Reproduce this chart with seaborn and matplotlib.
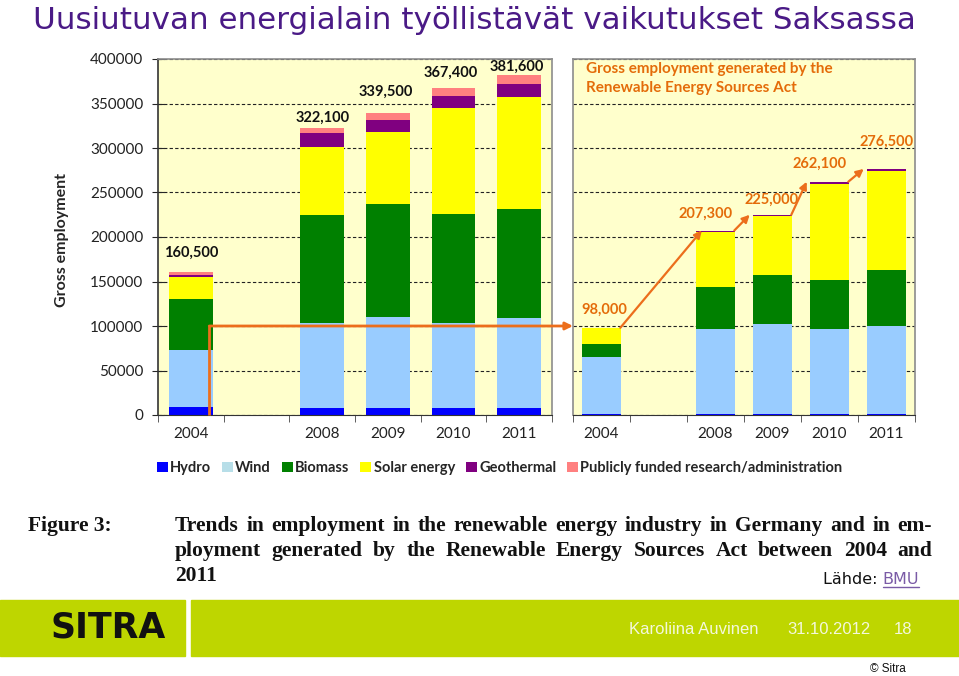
import numpy as np
import pandas as pd
import matplotlib
matplotlib.use("Agg")
import matplotlib.pyplot as plt
import seaborn as sns
from matplotlib.patches import Patch, Rectangle, ConnectionPatch
from matplotlib.lines import Line2D

# --- data ---
years = ['2004', '2008', '2009', '2010', '2011']
slots = ['2004', ' ', '2008', '2009', '2010', '2011']
sources = ['Hydro', 'Wind', 'Biomass', 'Solar energy', 'Geothermal',
           'Publicly funded research/administration']

# whole renewable energy industry
hydro_all = [9500, 7600, 7600, 7600, 7600]
wind_all = [63900, 95500, 102800, 95500, 101100]
biomass_all = [56800, 121800, 127000, 122500, 122800]
solar_all = [25100, 76600, 80500, 119500, 125600]
geo_all = [1800, 15000, 14000, 13500, 14300]
research_all = [3400, 5600, 7600, 8800, 10200]
totals_all = [160500, 322100, 339500, 367400, 381600]

# generated by the Renewable Energy Sources Act
hydro_eeg = [1500, 1500, 1500, 1500, 1500]
wind_eeg = [64000, 94800, 100800, 94800, 98900]
biomass_eeg = [14000, 48000, 55100, 55400, 62600]
solar_eeg = [18000, 61500, 66400, 108400, 111000]
geo_eeg = [500, 1500, 1200, 2000, 2500]
research_eeg = [0, 0, 0, 0, 0]
totals_eeg = [98000, 207300, 225000, 262100, 276500]

colors = ['#0000FF', '#99CCFF', '#008000', '#FFFF00', '#800080', '#FF8080']
legend_colors = ['#0000FF', '#B7DEE8', '#008000', '#FFFF00', '#800080', '#FF8080']
orange = '#EC6E1C'
W, H = 959, 676

sns.set_style('white')
plt.rcParams['font.family'] = ['Lato', 'DejaVu Sans']

fig = plt.figure(figsize=(W / 100, H / 100), dpi=100)


def px_box(x0, y0, x1, y1):
    return [x0 / W, 1 - y1 / H, (x1 - x0) / W, (y1 - y0) / H]


ax1 = fig.add_axes(px_box(158, 59, 552, 415))
ax2 = fig.add_axes(px_box(573, 59, 915, 415), sharey=ax1)


def draw_stack(ax, layers):
    frame = pd.DataFrame(dict(zip(sources, layers)), index=years)
    cum = frame.cumsum(axis=1)
    # draw from the top layer down so each lower layer overpaints the rest
    for src, col in zip(reversed(sources), reversed(colors)):
        sns.barplot(x=list(cum.index), y=cum[src].values, order=slots,
                    color=col, saturation=1, width=0.67, errorbar=None,
                    linewidth=0, ax=ax, zorder=2)
    ax.set_xlabel('')
    ax.set_ylabel('')
    ax.set_facecolor('#FFFFCC')
    ax.set_xlim(-0.5, 5.5)
    ax.set_xticks(np.arange(-0.5, 6, 1), minor=True)
    ax.tick_params(axis='x', which='major', length=0, pad=9,
                   labelsize=11, labelcolor='#222222')
    ax.tick_params(axis='x', which='minor', length=5, direction='out',
                   color='#444444', bottom=True)
    ax.yaxis.grid(True, linestyle=(0, (3, 2)), color='#222222', linewidth=0.8)
    ax.set_axisbelow(True)
    for side in ['top', 'right', 'left']:
        ax.spines[side].set_color('#8C8C8C')
        ax.spines[side].set_linewidth(1.2)
    ax.spines['bottom'].set_color('#333333')


draw_stack(ax1, [hydro_all, wind_all, biomass_all, solar_all, geo_all, research_all])
draw_stack(ax2, [hydro_eeg, wind_eeg, biomass_eeg, solar_eeg, geo_eeg, research_eeg])

ax1.set_ylim(0, 400000)
ax1.set_yticks(np.arange(0, 400001, 50000))
ax1.yaxis.set_major_formatter(matplotlib.ticker.FuncFormatter(lambda v, p: f'{int(v)}'))
ax1.tick_params(axis='y', direction='inout', length=9, pad=6, labelsize=11,
                labelcolor='#222222', left=True)
ax1.spines['left'].set_color('#333333')
ax2.tick_params(axis='y', left=False, labelleft=False)

# total labels
pos = [slots.index(y) for y in years]
offs_all = [(0, 19), (0, 11), (-2, 21), (-3, 15), (-2, 9)]
offs_eeg = [(3, 18), (-10, 17), (-1, 15), (-10, 18), (0, 27)]
for p, t, (dx, dy) in zip(pos, totals_all, offs_all):
    ax1.annotate(f'{t:,}', (p, t), xytext=(dx * 0.72, dy * 0.72),
                 textcoords='offset points', ha='center', va='center',
                 fontsize=10.5, fontweight='bold', color='#111111')
for p, t, (dx, dy) in zip(pos, totals_eeg, offs_eeg):
    ax2.annotate(f'{t:,}', (p, t), xytext=(dx * 0.72, dy * 0.72),
                 textcoords='offset points', ha='center', va='center',
                 fontsize=10.5, fontweight='bold', color='#E46C0A')

# arrows between EEG totals
akw = dict(arrowstyle='-|>', color=orange, lw=1.6, mutation_scale=11,
           shrinkA=0, shrinkB=0)
for i in range(len(years) - 1):
    start = (pos[i] + 0.33, totals_eeg[i])
    if i == 0:
        end = (pos[i + 1] - 0.24, totals_eeg[i + 1])
    else:
        end = (pos[i] + 0.6, totals_eeg[i + 1])
    ax2.annotate('', xy=end, xytext=start, arrowprops=akw, zorder=5)

# link from the 2004 industry bar to the EEG panel
ax1.plot([0.28, 0.28], [0, 100000], color=orange, lw=2, zorder=5,
         clip_on=False, solid_capstyle='butt')
link = ConnectionPatch(xyA=(0.28, 100000), coordsA=ax1.transData,
                       xyB=(-0.5, 100000), coordsB=ax2.transData,
                       arrowstyle='-|>', color=orange, lw=2,
                       mutation_scale=11, shrinkA=0, shrinkB=0, zorder=5)
fig.add_artist(link)

fig.text(586 / W, 1 - 62 / H,
         'Gross employment generated by the\nRenewable Energy Sources Act',
         ha='left', va='top', fontsize=11, fontweight='bold',
         color='#E46C0A', linespacing=1.45)

fig.text(62 / W, 1 - 240 / H, 'Gross employment', rotation=90,
         ha='center', va='center', fontsize=11.5, fontweight='bold')

# legend
handles = [Patch(facecolor=c, edgecolor='none') for c in legend_colors]
fig.legend(handles, sources, loc='center left',
           bbox_to_anchor=(157 / W, 1 - 468 / H), ncol=6, frameon=False,
           handlelength=0.75, handleheight=0.75, handletextpad=0.15,
           columnspacing=0.75, borderaxespad=0, borderpad=0,
           prop={'family': 'Lato', 'weight': 'bold', 'size': 10.5})

# slide title
fig.text(33 / W, 1 - 29 / H,
         'Uusiutuvan energialain työllistävät vaikutukset Saksassa',
         ha='left', va='baseline', fontsize=22.3, color='#4A1A86',
         family='DejaVu Sans')

# figure caption, justified like the source document
fig.canvas.draw()
renderer = fig.canvas.get_renderer()
cap_font = dict(family='Liberation Serif', fontweight='bold', color='#111111')
lines = ['Trends in employment in the renewable energy industry in Germany and in em-',
         'ployment generated by the Renewable Energy Sources Act between 2004 and',
         '2011']
x0, x1 = 175, 932
fs = 18.0
while True:
    probe = fig.text(0, 0, lines[0], fontsize=fs, **cap_font)
    w = probe.get_window_extent(renderer).width
    probe.remove()
    if w <= (x1 - x0) * 0.985 or fs < 12:
        break
    fs -= 0.25

fig.text(28 / W, 1 - 531 / H, 'Figure 3:', ha='left', va='baseline',
         fontsize=fs, **cap_font)
for k, line in enumerate(lines):
    yb = 1 - (531 + 25 * k) / H
    words = line.split(' ')
    if k == len(lines) - 1:
        fig.text(x0 / W, yb, line, ha='left', va='baseline', fontsize=fs, **cap_font)
        continue
    texts = [fig.text(0, yb, wd, ha='left', va='baseline', fontsize=fs, **cap_font)
             for wd in words]
    widths = [t.get_window_extent(renderer).width for t in texts]
    gap = (x1 - x0 - sum(widths)) / (len(words) - 1)
    x = x0
    for t, wd in zip(texts, widths):
        t.set_x(x / W)
        x += wd + gap

# source note
src1 = fig.text(823 / W, 1 - 584 / H, 'Lähde: ', ha='left', va='baseline',
                fontsize=11.5, family='DejaVu Sans', color='#111111')
bb = src1.get_window_extent(renderer)
src2 = fig.text(bb.x1 / W, 1 - 584 / H, 'BMU', ha='left', va='baseline',
                fontsize=11.5, family='DejaVu Sans', color='#7A5BA6')
bb2 = src2.get_window_extent(renderer)
fig.add_artist(Line2D([bb2.x0 / W, bb2.x1 / W], [1 - 587 / H, 1 - 587 / H],
                      color='#7A5BA6', lw=1, transform=fig.transFigure))

# footer band
green = '#BED600'
fig.add_artist(Rectangle((0, 1 - 656 / H), 185 / W, 56 / H, color=green,
                         transform=fig.transFigure, zorder=0))
fig.add_artist(Rectangle((191 / W, 1 - 656 / H), (W - 191) / W, 56 / H,
                         color=green, transform=fig.transFigure, zorder=0))
fig.text(108 / W, 1 - 627 / H, 'SITRA', ha='center', va='center',
         fontsize=25, fontweight='bold', family='DejaVu Sans', color='#111111')
for txt, xc in [('Karoliina Auvinen', 694), ('31.10.2012', 829), ('18', 903)]:
    fig.text(xc / W, 1 - 629 / H, txt, ha='center', va='center', fontsize=12,
             family='Liberation Sans', color='#F4F8DC')
fig.text(906 / W, 1 - 669 / H, '© Sitra', ha='right', va='center',
         fontsize=8.5, family='Liberation Sans', color='#111111')

plt.savefig('out.png', dpi=100)
